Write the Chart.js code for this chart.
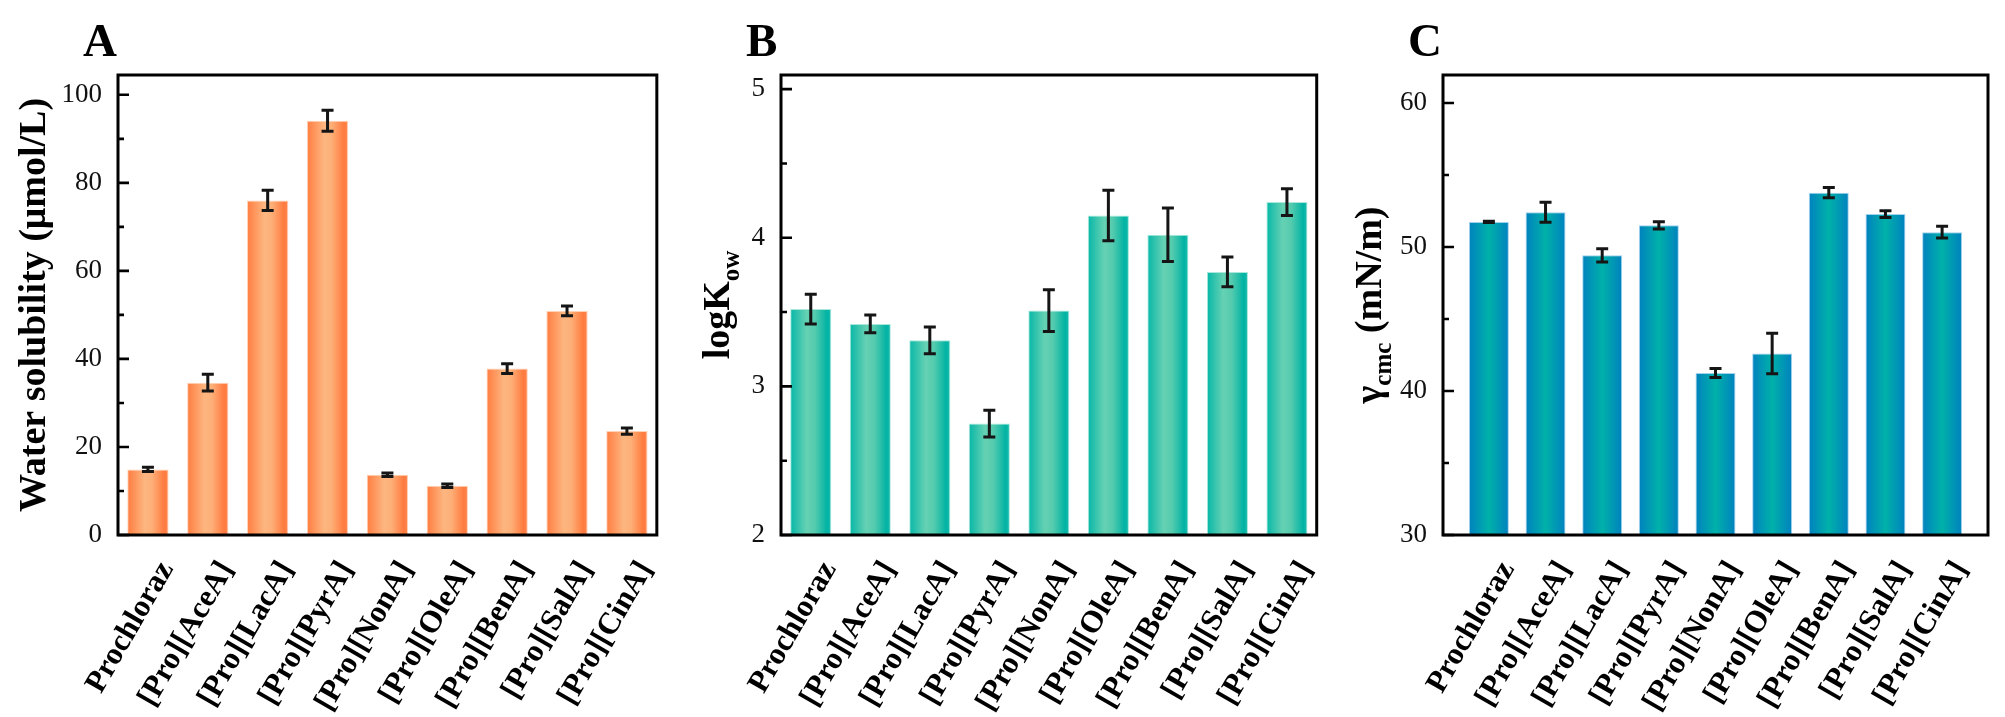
<!DOCTYPE html>
<html>
<head>
<meta charset="utf-8">
<script src="https://cdn.jsdelivr.net/npm/chart.js@4/dist/chart.umd.min.js"></script>
<style>
  body { margin: 0; background: #fff; }
  #wrap { position: relative; width: 2005px; height: 717px; overflow: hidden; }
  canvas { position: absolute; top: 0; }
</style>
</head>
<body>
<div id="wrap">
  <canvas id="panel-a" width="680" height="717" style="left:0px"></canvas>
  <canvas id="panel-b" width="660" height="717" style="left:680px"></canvas>
  <canvas id="panel-c" width="665" height="717" style="left:1340px"></canvas>
</div>
<script>
// values
const categories = ["Prochloraz", "[Pro][AceA]", "[Pro][LacA]", "[Pro][PyrA]", "[Pro][NonA]",
  "[Pro][OleA]", "[Pro][BenA]", "[Pro][SalA]", "[Pro][CinA]"];

const solubility = [14.9, 34.6, 76.0, 94.1, 13.7, 11.2, 37.8, 50.9, 23.6];
const solubilityErr = [0.5, 1.9, 2.3, 2.4, 0.4, 0.4, 1.1, 1.1, 0.7];
const solubilityTicks = [0, 20, 40, 60, 80, 100];
const solubilityMinor = [10, 30, 50, 70, 90];

const logKow = [3.52, 3.42, 3.31, 2.75, 3.51, 4.15, 4.02, 3.77, 4.24];
const logKowErr = [0.10, 0.06, 0.09, 0.09, 0.14, 0.17, 0.18, 0.10, 0.09];
const logKowTicks = [2, 3, 4, 5];
const logKowMinor = [2.5, 3.5, 4.5];

const gammaCmc = [51.74, 52.41, 49.42, 51.5, 41.25, 42.6, 53.77, 52.28, 51.03];
const gammaCmcErr = [0.05, 0.7, 0.46, 0.25, 0.31, 1.41, 0.35, 0.23, 0.4];
const gammaCmcTicks = [30, 40, 50, 60];
const gammaCmcMinor = [35, 45, 55];

const SERIF = "'Liberation Serif', 'Times New Roman', serif";

// draws error bars, box frame, inward ticks, panel letter and y title
const decorPlugin = {
  id: "decor",
  afterDatasetsDraw(chart, args, opts) {
    const ctx = chart.ctx;
    const y = chart.scales.y;
    const bars = chart.getDatasetMeta(0).data;
    ctx.save();
    ctx.strokeStyle = "#151515";
    ctx.lineWidth = 3;
    bars.forEach((bar, i) => {
      const top = y.getPixelForValue(opts.values[i] + opts.errors[i]);
      const bot = y.getPixelForValue(opts.values[i] - opts.errors[i]);
      ctx.beginPath();
      ctx.moveTo(bar.x, top);
      ctx.lineTo(bar.x, bot);
      ctx.moveTo(bar.x - 6, top);
      ctx.lineTo(bar.x + 6, top);
      ctx.moveTo(bar.x - 6, bot);
      ctx.lineTo(bar.x + 6, bot);
      ctx.stroke();
    });
    ctx.restore();
  },
  afterDraw(chart, args, opts) {
    const ctx = chart.ctx;
    const area = chart.chartArea;
    const y = chart.scales.y;
    ctx.save();
    ctx.strokeStyle = "#000";
    ctx.lineWidth = 3;
    ctx.strokeRect(area.left, area.top, area.right - area.left, area.bottom - area.top);

    ctx.lineWidth = 2.6;
    ctx.beginPath();
    opts.major.forEach((v) => {
      const py = y.getPixelForValue(v);
      ctx.moveTo(area.left, py);
      ctx.lineTo(area.left + 11, py);
    });
    opts.minor.forEach((v) => {
      const py = y.getPixelForValue(v);
      ctx.moveTo(area.left, py);
      ctx.lineTo(area.left + 6, py);
    });
    ctx.stroke();

    // panel letter
    ctx.fillStyle = "#000";
    ctx.font = "bold 47px " + SERIF;
    ctx.textAlign = "left";
    ctx.textBaseline = "alphabetic";
    ctx.fillText(opts.letter, area.left - 35, 56);

    // rotated y title, pieces may be subscripts
    const mainFont = "bold 38px " + SERIF;
    const subFont = "bold 25px " + SERIF;
    let total = 0;
    opts.title.forEach((p) => {
      ctx.font = p.sub ? subFont : mainFont;
      total += ctx.measureText(p.text).width;
    });
    ctx.translate(area.left - opts.titleGap, (area.top + area.bottom) / 2);
    ctx.rotate(-Math.PI / 2);
    let tx = -total / 2;
    opts.title.forEach((p) => {
      ctx.font = p.sub ? subFont : mainFont;
      ctx.fillText(p.text, tx, p.sub ? 10 : 0);
      tx += ctx.measureText(p.text).width;
    });
    ctx.restore();
  }
};

function barGradient(stops) {
  return (c) => {
    const chart = c.chart;
    const xs = chart.scales.x;
    if (!xs || !chart.chartArea || c.type !== "data") return stops[0][1];
    const cx = xs.getPixelForValue(c.dataIndex);
    const pitch = Math.abs(xs.getPixelForValue(1) - xs.getPixelForValue(0));
    const half = pitch * c.dataset.barPercentage / 2;
    if (!isFinite(cx) || !isFinite(half) || half <= 0) return stops[0][1];
    const g = chart.ctx.createLinearGradient(cx - half, 0, cx + half, 0);
    stops.forEach((s) => g.addColorStop(s[0], s[1]));
    return g;
  };
}

function renderPanel(elementId, cfg) {
  const ctx = document.getElementById(elementId).getContext("2d");
  return new Chart(ctx, {
    type: "bar",
    data: {
      datasets: [
        {
          data: cfg.values.map((v, i) => ({ x: i, y: v })),
          backgroundColor: barGradient(cfg.stops),
          borderColor: cfg.border,
          borderWidth: 1,
          borderSkipped: "bottom",
          barPercentage: cfg.barPct,
          categoryPercentage: 1,
        },
      ],
    },
    options: {
      responsive: false,
      animation: false,
      devicePixelRatio: 1,
      layout: { padding: { left: 0, right: cfg.padRight, top: 75, bottom: 0 } },
      plugins: {
        legend: { display: false },
        tooltip: { enabled: false },
        decor: {
          values: cfg.values,
          errors: cfg.errors,
          major: cfg.ticks,
          minor: cfg.minor,
          letter: cfg.letter,
          title: cfg.title,
          titleGap: cfg.titleGap,
        },
      },
      scales: {
        x: {
          type: "linear",
          offset: false,
          min: -cfg.edge,
          max: categories.length - 1 + cfg.edge,
          grid: { display: false, drawTicks: false, offset: false },
          border: { display: false },
          afterBuildTicks: (s) => { s.ticks = categories.map((_, i) => ({ value: i })); },
          afterFit: (s) => { s.height = 182; },
          ticks: {
            autoSkip: false,
            minRotation: 60,
            maxRotation: 60,
            padding: 20,
            labelOffset: 19,
            color: "#000",
            font: { family: SERIF, size: 31, weight: "bold" },
            callback: (v) => categories[v],
          },
        },
        y: {
          min: cfg.min,
          max: cfg.max,
          grid: { display: false, drawTicks: false },
          border: { display: false },
          afterBuildTicks: (s) => { s.ticks = cfg.ticks.map((v) => ({ value: v })); },
          afterFit: (s) => { s.width = cfg.axisWidth; },
          ticks: {
            padding: 16,
            color: "#111",
            font: { family: SERIF, size: 27 },
          },
        },
      },
    },
    plugins: [decorPlugin],
  });
}

renderPanel("panel-a", {
  values: solubility, errors: solubilityErr, ticks: solubilityTicks, minor: solubilityMinor,
  min: 0, max: 104.5, axisWidth: 118, padRight: 16, edge: 0.5, barPct: 0.69,
  letter: "A", titleGap: 73,
  title: [{ text: "Water solubility (μmol/L)" }],
  stops: [[0, "#FF7C40"], [0.42, "#FDB680"], [0.6, "#FDAF78"], [0.9, "#FF7A3E"], [1, "#FF8A52"]],
  border: "rgba(255,205,175,0.9)",
});

renderPanel("panel-b", {
  values: logKow, errors: logKowErr, ticks: logKowTicks, minor: logKowMinor,
  min: 2, max: 5.095, axisWidth: 101, padRight: 15, edge: 0.5, barPct: 0.69,
  letter: "B", titleGap: 52,
  title: [{ text: "logK" }, { text: "ow", sub: true }],
  stops: [[0, "#06B7A8"], [0.4, "#66D1B3"], [0.6, "#55CBAE"], [0.9, "#00B3A4"], [1, "#20BDAE"]],
  border: "rgba(160,230,215,0.9)",
});

renderPanel("panel-c", {
  values: gammaCmc, errors: gammaCmcErr, ticks: gammaCmcTicks, minor: gammaCmcMinor,
  min: 30, max: 61.94, axisWidth: 103, padRight: 17, edge: 0.81, barPct: 0.705,
  letter: "C", titleGap: 62,
  title: [{ text: "γ" }, { text: "cmc", sub: true }, { text: " (mN/m)" }],
  stops: [[0, "#0081BF"], [0.5, "#00B1A9"], [1, "#0081BF"]],
  border: "rgba(150,205,235,0.9)",
});
</script>
</body>
</html>
